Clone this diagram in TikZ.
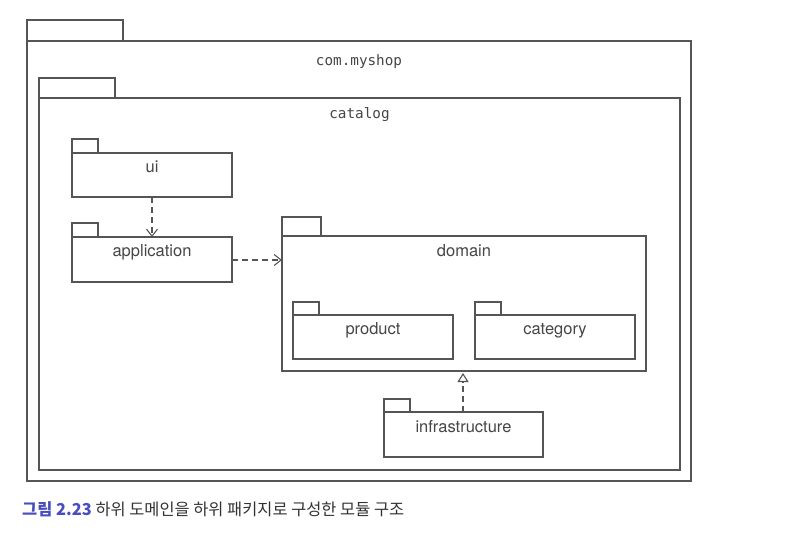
\documentclass[tikz,border=0pt]{standalone}
\usepackage{fontspec}
\usetikzlibrary{arrows.meta}
\newfontfamily\lblfont{TeX Gyre Heros}
\newfontfamily\pkgmono{DejaVu Sans Mono}
\newfontfamily\kfont{Noto Sans CJK KR}
\definecolor{linegray}{RGB}{85,85,85}
\definecolor{textgray}{RGB}{70,70,70}
\definecolor{capblue}{RGB}{72,78,190}
\definecolor{capgray}{RGB}{50,50,50}
\tikzset{
  pkgbox/.style={draw=linegray, line width=1.1pt, rectangle, inner sep=0pt, outer sep=0pt, fill=white},
  pkglabel/.style={anchor=base, inner sep=0pt, text=textgray, font=\lblfont\fontsize{16.5}{18}\selectfont},
  monolabel/.style={anchor=base, inner sep=0pt, text=textgray, font=\pkgmono\fontsize{14.3}{16}\selectfont},
  dep/.style={draw=linegray, line width=1.1pt, dash pattern=on 6pt off 4pt, -{Straight Barb[length=7pt,width=11pt,line width=1.1pt]}},
  impl/.style={draw=linegray, line width=1.1pt, dash pattern=on 6pt off 4pt, -{Triangle[open,length=9pt,width=11pt,line width=1.1pt]}, shorten >=2pt}
}
% \pkgdraw{name}{x}{y}{w}{h}{tabw}{tabh}
\newcommand{\pkgdraw}[7]{%
  \node[pkgbox, minimum width=#4pt, minimum height=#5pt, anchor=north west] (#1) at (#2,#3) {};
  \node[pkgbox, minimum width=#6pt, minimum height=#7pt, anchor=south west] (#1-tab) at (#1.north west) {};
}
\begin{document}
\begin{tikzpicture}[x=1pt,y=-1pt]
\useasboundingbox (0,0) rectangle (799,552);
% outer packages
\pkgdraw{myshop}{27}{41}{664}{440}{96}{21}
\node[monolabel] (myshop-l) at ([yshift=-24pt]myshop.north) {com.myshop};
\pkgdraw{catalog}{39}{98}{641}{372}{76}{20}
\node[monolabel] (catalog-l) at ([yshift=-20pt]catalog.north) {catalog};
% ui
\pkgdraw{ui}{72}{153}{160}{44}{26}{14}
\node[pkglabel] (ui-l) at ([yshift=-19pt]ui.north) {ui};
% application
\pkgdraw{app}{72}{237}{160}{45}{26}{14}
\node[pkglabel] (app-l) at ([yshift=-19pt]app.north) {application};
% domain
\pkgdraw{domain}{282}{236}{364}{135}{39}{19}
\node[pkglabel] (domain-l) at ([yshift=-20pt]domain.north) {domain};
\pkgdraw{product}{293}{315}{160}{44}{26}{13}
\node[pkglabel] (product-l) at ([yshift=-19pt]product.north) {product};
\pkgdraw{category}{475}{315}{160}{44}{26}{13}
\node[pkglabel] (category-l) at ([yshift=-19pt]category.north) {category};
% infrastructure
\pkgdraw{infra}{384}{412}{159}{45}{26}{13}
\node[pkglabel] (infra-l) at ([yshift=-20pt]infra.north) {infrastructure};
% connectors
\draw[dep] (ui.south) -- (app.north);
\draw[dep] (app.east |- 0,260) -- (domain.west |- 0,260);
\draw[impl] (infra.north -| 463,0) -- (domain.south -| 463,0);
% caption
\node[anchor=base west, inner sep=0pt, font=\kfont\fontsize{16.4}{19}\selectfont, text=capgray] (cap) at (22,515) {{\color{capblue}\bfseries 그림 2.23} 하위 도메인을 하위 패키지로 구성한 모듈 구조};
\end{tikzpicture}
\end{document}
